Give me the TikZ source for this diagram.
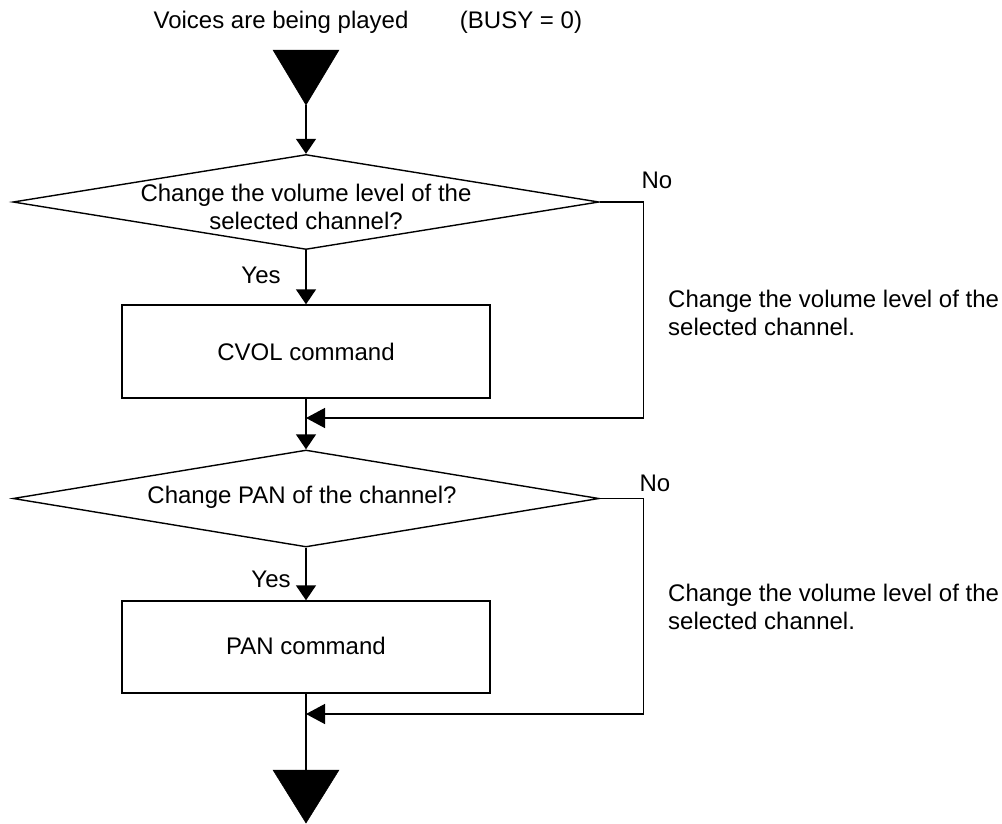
\documentclass[tikz,border=0pt]{standalone}
\usepackage{fontspec}
\setmainfont{Liberation Sans}
\usetikzlibrary{shapes.geometric,arrows.meta}
\tikzset{
  txt/.style={inner sep=0pt, font=\fontsize{24}{28}\selectfont},
  dec/.style={diamond, draw, line width=1.4pt, inner sep=0pt, minimum width=586pt, minimum height=95pt},
  procbox/.style={rectangle, draw, line width=1.4pt, inner sep=0pt, minimum width=368pt, minimum height=93pt},
  flow/.style={line width=1.4pt, -{Triangle[length=15pt,width=20pt]}},
  mergeflow/.style={line width=1.4pt, -{Triangle[length=19pt,width=20pt]}},
  plain/.style={line width=1.4pt},
  bigtri/.style={fill=black, draw=black, line width=0.5pt},
}
\begin{document}
\begin{tikzpicture}[x=1pt,y=1pt]
\useasboundingbox (0,0) rectangle (1002,-823);
% top texts
\node[txt] (start) at (281,-22) {Voices are being played};
\node[txt] (busy) at (521,-22) {(BUSY = 0)};
% top triangle
\coordinate (t1) at (306,-105);
\fill[bigtri] (273,-50) -- (339,-50) -- (t1) -- cycle;
% decision 1
\node[dec] (d1) at (306,-202) {};
\node[txt, align=center] (d1t) at (306,-207) {Change the volume level of the\\selected channel?};
\node[txt] (no1) at (657,-180) {No};
\node[txt] (yes1) at (261,-275) {Yes};
% box 1
\node[procbox] (b1) at (306,-351.5) {};
\node[txt] (b1t) at (306,-352) {CVOL command};
\coordinate (m1) at (306,-418);
% side text 1
\node[txt, anchor=west, align=left] (s1) at (668,-313) {Change the volume level of the\\selected channel.};
% decision 2
\node[dec, minimum height=97pt] (d2) at (306,-498.5) {};
\node[txt] (d2t) at (302,-497) {Change PAN of the channel?};
\node[txt] (no2) at (655,-483) {No};
\node[txt] (yes2) at (271,-579) {Yes};
% box 2
\node[procbox, minimum height=92pt] (b2) at (306,-647) {};
\node[txt] (b2t) at (306,-646) {PAN command};
\coordinate (m2) at (306,-714);
\node[txt, anchor=west, align=left] (s2) at (668,-607) {Change the volume level of the\\selected channel.};
% bottom triangle
\coordinate (bt) at (306,-770);
\fill[bigtri] (273,-770) -- (339,-770) -- (306,-823) -- cycle;
% connectors
\draw[flow] (t1) -- (d1.north);
\draw[flow] (d1.south) -- (b1.north);
\draw[plain] (b1.south) -- (m1);
\draw[flow] (m1) -- (d2.north);
\draw[mergeflow] (d1.east) -- ++(44,0) |- (m1);
\draw[flow] (d2.south) -- (b2.north);
\draw[plain] (b2.south) -- (m2) -- (bt);
\draw[mergeflow] (d2.east) -- ++(44,0) |- (m2);
\end{tikzpicture}
\end{document}
